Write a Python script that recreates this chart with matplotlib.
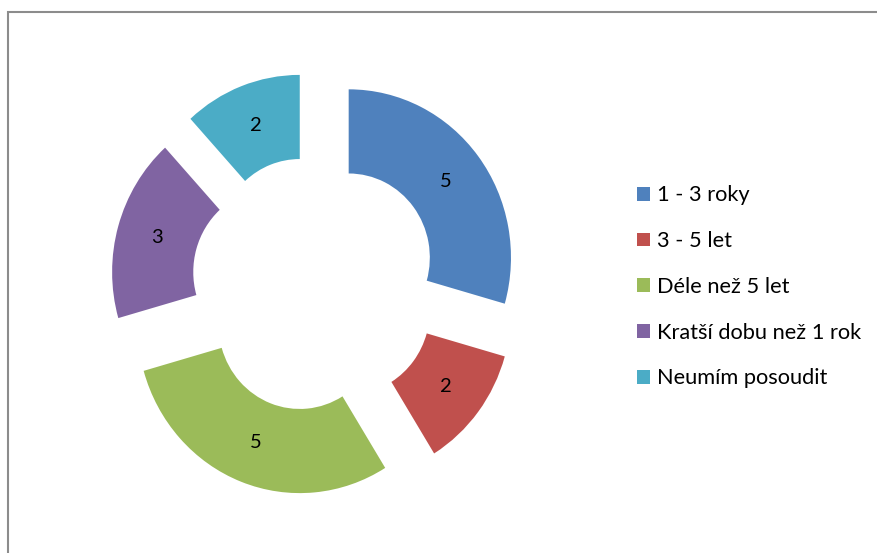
import matplotlib
matplotlib.use("Agg")
import matplotlib.pyplot as plt
from matplotlib.patches import Rectangle, Patch

categories = ["1 - 3 roky", "3 - 5 let", "Déle než 5 let", "Kratší dobu než 1 rok", "Neumím posoudit"]
values = [5, 2, 5, 3, 2]
colors = ["#4F81BD", "#C0504D", "#9BBB59", "#8064A2", "#4BACC6"]

plt.rcParams['font.family'] = ['Lato', 'DejaVu Sans']

W, H = 877, 553
fig = plt.figure(figsize=(W / 100, H / 100), dpi=100)
fig.patch.set_facecolor("white")

# chart frame
fig.patches.append(Rectangle((8 / W, -0.1), 1.2, 1 - 12 / H + 0.1, transform=fig.transFigure,
                             fill=False, edgecolor="#8c8c8c", linewidth=1.5))

# pie axes: centre (315, 284) px from top; slightly different x/y scale
cx, cy = 315, 284
rx, ry = 162.3, 168.3          # px per unit radius
half = 1.4
wpx, hpx = 2 * half * rx, 2 * half * ry
ax = fig.add_axes([(cx - wpx / 2) / W, (H - cy - hpx / 2) / H, wpx / W, hpx / H])
total = sum(values)
wedges, texts, autotexts = ax.pie(
    values, colors=colors, startangle=90, counterclock=False,
    explode=[0.26] * len(values), radius=1.0,
    wedgeprops=dict(width=0.5, linewidth=0),
    autopct=lambda p: f"{round(p * total / 100)}", pctdistance=0.75,
    textprops=dict(fontsize=14.5, color="black"))
ax.set_aspect("auto")
ax.set_xlim(-half, half)
ax.set_ylim(-half, half)
ax.axis("off")

handles = [Patch(facecolor=c, edgecolor="none") for c in colors]
leg = fig.legend(handles, categories, loc="upper left",
                 bbox_to_anchor=(626 / W, 1 - 174.5 / H), frameon=False,
                 fontsize=15.7, handlelength=0.6, handleheight=0.6,
                 handletextpad=0.3, labelspacing=1.18, borderpad=0)

fig.savefig("out.png", dpi=100, facecolor="white")
